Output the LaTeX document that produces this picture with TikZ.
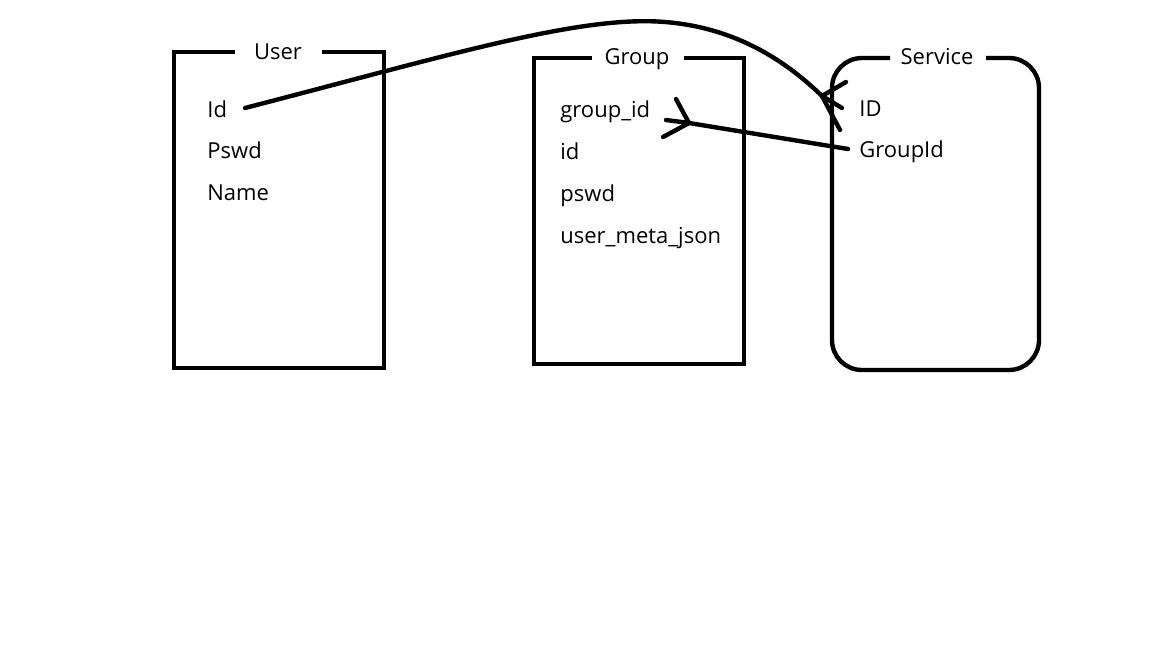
\documentclass[tikz,border=0pt]{standalone}
\usepackage{fontspec}
\setmainfont{Open Sans}
\begin{document}
\begin{tikzpicture}[x=0.5pt,y=-0.5pt,
  boxline/.style={line width=2.2pt,line join=miter},
  conn/.style={line width=2.2pt,line cap=round,line join=round},
  field/.style={anchor=base west,inner sep=0pt,font=\fontsize{11pt}{13pt}\selectfont},
  title/.style={anchor=base,inner sep=0pt,font=\fontsize{11pt}{13pt}\selectfont}]
\useasboundingbox[fill=white] (0,0) rectangle (1152,648);
% boxes
\draw[boxline] (235,52) -- (174,52) -- (174,368) -- (384,368) -- (384,52) -- (322,52);
\draw[boxline] (592,58) -- (534,58) -- (534,364) -- (744,364) -- (744,58) -- (684,58);
\draw[boxline,rounded corners=15] (890,58) -- (832,58) -- (832,370) -- (1039,370) -- (1039,58) -- (986,58);
% titles
\node[title] (tuser) at (278,59) {User};
\node[title] (tgroup) at (637,64) {Group};
\node[title] (tservice) at (937,64) {Service};
% fields
\node[field] (uid) at (207,117) {Id};
\node[field] (upswd) at (207,158) {Pswd};
\node[field] (uname) at (207,200) {Name};
\node[field] (ggid) at (560,117) {group\_id};
\node[field] (gid) at (560,159) {id};
\node[field] (gpswd) at (560,201) {pswd};
\node[field] (gmeta) at (560,243) {user\_meta\_json};
\node[field] (sid) at (859,116) {ID};
\node[field] (sgid) at (859,157) {GroupId};
% connector endpoints
\coordinate (uidend) at (245,108);
\coordinate (peak) at (665,22);
\coordinate (crowS) at (822,96);
\coordinate (crowSa) at (846,82);
\coordinate (crowSb) at (842,108);
\coordinate (crowSc) at (840,130);
\coordinate (sgidend) at (848,149);
\coordinate (crowG) at (689,123);
\coordinate (crowGa) at (676,99);
\coordinate (crowGb) at (666,120);
\coordinate (crowGc) at (663,137);
% User.Id -> Service.ID
\draw[conn] (uidend) .. controls (450,55) and (580,15) .. (peak)
  .. controls (740,28) and (790,65) .. (crowS) -- (crowSc);
\draw[conn] (crowS) -- (crowSa);
\draw[conn] (crowS) -- (crowSb);
% Service.GroupId -> Group.group_id
\draw[conn] (sgidend) -- (crowG);
\draw[conn] (crowG) -- (crowGa);
\draw[conn] (crowG) -- (crowGb);
\draw[conn] (crowG) -- (crowGc);
\end{tikzpicture}
\end{document}
